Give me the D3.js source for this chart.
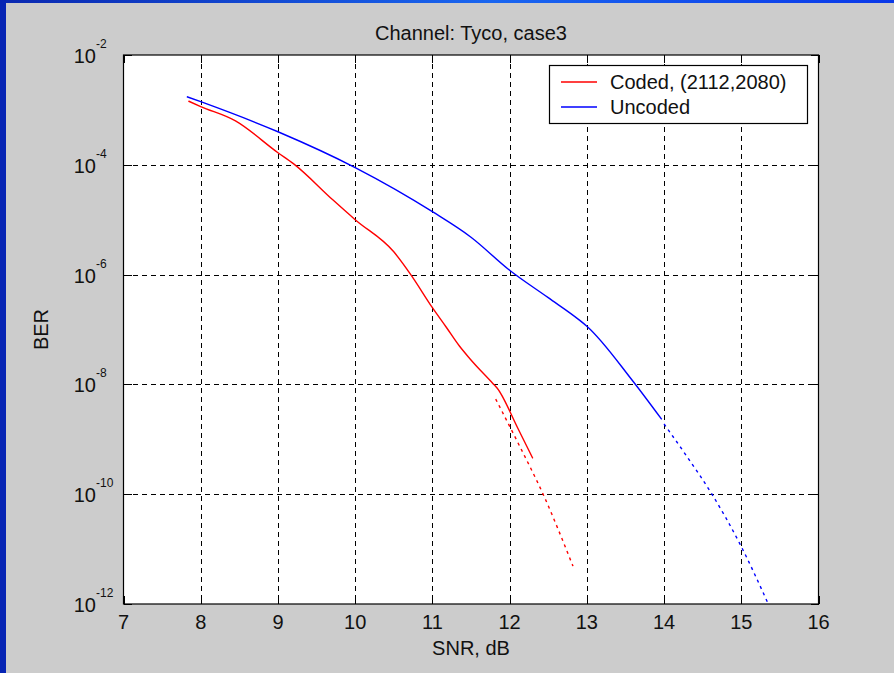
<!DOCTYPE html>
<html>
<head>
<meta charset="utf-8">
<script src="https://cdn.jsdelivr.net/npm/d3@7"></script>
<style>
  body { margin: 0; background: #cccccc; }
  svg { display: block; }
  text { font-family: "Liberation Sans", Arial, sans-serif; fill: #111; }
</style>
</head>
<body>
<div id="chart"></div>
<script>
// Data
var xTicks = [7, 8, 9, 10, 11, 12, 13, 14, 15, 16];
var yTickExp = [-2, -4, -6, -8, -10, -12];

var codedSnr = [7.84, 8.0, 8.45, 9.0, 9.2, 9.71, 10.0, 10.5, 10.72, 11.0, 11.18, 11.35, 11.48, 11.78, 11.84, 12.1, 12.3];
var codedBer = [1.45e-3, 1.15e-3, 6.3e-4, 1.66e-4, 1.05e-4, 2.3e-5, 1.0e-5, 2.6e-6, 1.0e-6, 2.5e-7, 1.1e-7, 5.0e-8, 3.0e-8, 1.05e-8, 8.5e-9, 1.66e-9, 4.5e-10];

var codedExtSnr = [11.82, 12.1, 12.45, 12.82];
var codedExtBer = [5.4e-9, 9.1e-10, 8.9e-11, 4.9e-12];

var uncodedSnr = [7.82, 8.0, 9.0, 10.0, 11.0, 11.5, 12.0, 12.5, 12.9, 13.0, 13.58, 13.97];
var uncodedBer = [1.74e-3, 1.41e-3, 4.0e-4, 8.9e-5, 1.4e-5, 4.8e-6, 1.2e-6, 3.8e-7, 1.5e-7, 1.15e-7, 1.23e-8, 2.3e-9];

var uncodedExtSnr = [14.0, 14.29, 14.62, 14.98, 15.35];
var uncodedExtBer = [1.9e-9, 5.0e-10, 1.0e-10, 1.26e-11, 1.0e-12];

var seriesNames = ["Coded, (2112,2080)", "Uncoded"];
var seriesColors = ["#ff0000", "#0000ff"];

// SVG
var W = 894, H = 673;
var svg = d3.select("#chart").append("svg")
    .attr("width", W)
    .attr("height", H);

// slide border + figure background
var grad = svg.append("defs").append("linearGradient")
    .attr("id", "topband").attr("x1", "0%").attr("x2", "100%");
grad.append("stop").attr("offset", "0%").attr("stop-color", "#0a28b0");
grad.append("stop").attr("offset", "55%").attr("stop-color", "#1a66f0");
grad.append("stop").attr("offset", "100%").attr("stop-color", "#0a38e8");

svg.append("rect").attr("width", W).attr("height", H).attr("fill", "url(#topband)");
svg.append("rect").attr("x", 0).attr("y", 0).attr("width", 6).attr("height", H).attr("fill", "#0624b4");
svg.append("rect").attr("x", 6).attr("y", 3).attr("width", W - 6).attr("height", H - 3).attr("fill", "#cccccc");

var plot = { left: 123.5, right: 818.5, top: 55, bottom: 604 };

var x = d3.scaleLinear().domain([7, 16]).range([plot.left, plot.right]);
var y = d3.scaleLog().domain([1e-12, 1e-2]).range([plot.bottom, plot.top]);
var yTicks = yTickExp.map(function (e) { return Math.pow(10, e); });

svg.append("rect")
    .attr("x", plot.left).attr("y", plot.top)
    .attr("width", plot.right - plot.left)
    .attr("height", plot.bottom - plot.top)
    .attr("fill", "#ffffff");

// grid
var grid = svg.append("g").attr("stroke", "#000").attr("stroke-width", 1.2)
    .attr("stroke-dasharray", "5,4").attr("shape-rendering", "crispEdges");

grid.selectAll(".gx").data(xTicks.slice(1, -1)).enter().append("line")
    .attr("x1", function (d) { return Math.round(x(d)) + 0.5; })
    .attr("x2", function (d) { return Math.round(x(d)) + 0.5; })
    .attr("y1", plot.top).attr("y2", plot.bottom);

grid.selectAll(".gy").data(yTicks.slice(1, -1)).enter().append("line")
    .attr("y1", function (d) { return Math.round(y(d)) + 0.5; })
    .attr("y2", function (d) { return Math.round(y(d)) + 0.5; })
    .attr("x1", plot.left).attr("x2", plot.right);

// axes (ticks inward, on all four sides)
var tk = 8;
function styleAxis(g) {
    g.select(".domain").remove();
    g.selectAll(".tick line").attr("stroke", "#000").attr("shape-rendering", "crispEdges");
    g.selectAll(".tick text").remove();
}
svg.append("g").attr("transform", "translate(0," + plot.bottom + ")")
    .call(d3.axisBottom(x).tickValues(xTicks).tickSize(-tk)).call(styleAxis);
svg.append("g").attr("transform", "translate(0," + plot.top + ")")
    .call(d3.axisTop(x).tickValues(xTicks).tickSize(-tk)).call(styleAxis);
svg.append("g").attr("transform", "translate(" + plot.left + ",0)")
    .call(d3.axisLeft(y).tickValues(yTicks).tickSize(-tk)).call(styleAxis);
svg.append("g").attr("transform", "translate(" + plot.right + ",0)")
    .call(d3.axisRight(y).tickValues(yTicks).tickSize(-tk)).call(styleAxis);

// curves
svg.append("defs").append("clipPath").attr("id", "plotclip")
    .append("rect").attr("x", plot.left).attr("y", plot.top)
    .attr("width", plot.right - plot.left).attr("height", plot.bottom - plot.top);

var line = d3.line()
    .x(function (d) { return x(d[0]); })
    .y(function (d) { return y(d[1]); })
    .curve(d3.curveMonotoneX);

function zip(a, b) { return a.map(function (v, i) { return [v, b[i]]; }); }

var curves = svg.append("g").attr("clip-path", "url(#plotclip)")
    .attr("fill", "none").attr("stroke-width", 1.4);

curves.append("path").attr("d", line(zip(uncodedSnr, uncodedBer))).attr("stroke", seriesColors[1]);
curves.append("path").attr("d", line(zip(uncodedExtSnr, uncodedExtBer))).attr("stroke", seriesColors[1])
    .attr("stroke-dasharray", "3,4");
curves.append("path").attr("d", line(zip(codedSnr, codedBer))).attr("stroke", seriesColors[0]);
curves.append("path").attr("d", line(zip(codedExtSnr, codedExtBer))).attr("stroke", seriesColors[0])
    .attr("stroke-dasharray", "3,4");

// box
svg.append("rect")
    .attr("x", plot.left).attr("y", plot.top)
    .attr("width", plot.right - plot.left)
    .attr("height", plot.bottom - plot.top)
    .attr("fill", "none").attr("stroke", "#000").attr("stroke-width", 1.2);

// tick labels
svg.selectAll(".xl").data(xTicks).enter().append("text")
    .attr("x", function (d) { return x(d); })
    .attr("y", 629)
    .attr("text-anchor", "middle")
    .attr("font-size", 20)
    .text(function (d) { return d; });

var yl = svg.selectAll(".yl").data(yTickExp).enter().append("g")
    .attr("transform", function (d) { return "translate(96," + y(Math.pow(10, d)) + ")"; });
yl.append("text").attr("x", 0).attr("y", 8).attr("text-anchor", "end")
    .attr("font-size", 20).text("10");
yl.append("text").attr("x", 0).attr("y", -7).attr("text-anchor", "start")
    .attr("font-size", 12).text(function (d) { return d; });

// titles
svg.append("text").attr("x", (plot.left + plot.right) / 2).attr("y", 40)
    .attr("text-anchor", "middle").attr("font-size", 20).text("Channel: Tyco, case3");
svg.append("text").attr("x", (plot.left + plot.right) / 2).attr("y", 655)
    .attr("text-anchor", "middle").attr("font-size", 20).text("SNR, dB");
svg.append("text")
    .attr("transform", "translate(48," + ((plot.top + plot.bottom) / 2) + ") rotate(-90)")
    .attr("text-anchor", "middle").attr("font-size", 20).text("BER");

// legend
var leg = svg.append("g");
leg.append("rect").attr("x", 549.5).attr("y", 65.5).attr("width", 258).attr("height", 58)
    .attr("fill", "#fff").attr("stroke", "#000").attr("stroke-width", 1.2);
var items = leg.selectAll(".li").data(seriesNames).enter().append("g")
    .attr("transform", function (d, i) { return "translate(0," + (82 + i * 25) + ")"; });
items.append("line").attr("x1", 561).attr("x2", 597).attr("y1", 0).attr("y2", 0)
    .attr("stroke", function (d, i) { return seriesColors[i]; }).attr("stroke-width", 1.4);
items.append("text").attr("x", 610).attr("y", 7).attr("font-size", 20)
    .text(function (d) { return d; });
</script>
</body>
</html>
